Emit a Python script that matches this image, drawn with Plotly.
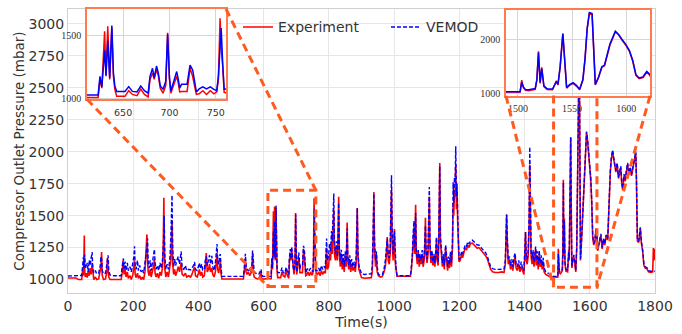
import plotly.graph_objects as go

# ---------------- data ----------------
time_s = [
    0, 25, 32, 42, 45, 47, 49, 50, 51, 53, 56, 59, 62, 65, 68, 71, 74, 76, 79, 84, 88, 94, 99, 101, 103, 105, 109, 115, 119, 121, 123, 125, 129,
    140, 163, 166, 169, 170, 172, 175, 178, 182, 185, 190, 194, 199, 202, 204, 206, 209, 213, 216, 220, 224, 228, 232, 236, 239,
    242, 244, 246, 249, 252, 255, 259, 262, 265, 267, 270, 274, 278, 282, 286, 290, 292, 294, 295, 297, 300, 304, 308, 312, 315,
    317, 319, 321, 324, 327, 330, 334, 338, 342, 347, 350, 355, 360, 364, 370, 376, 380, 385, 388, 391, 396, 400, 403, 406, 410,
    413, 418, 421, 424, 427, 431, 434, 437, 441, 444, 448, 452, 455, 457, 459, 462, 465, 467, 469, 472,
    538, 541, 543, 544, 546, 549, 553, 557, 561, 564, 566, 568, 571, 576, 581, 586, 590, 592, 594, 597,
    611, 623, 625, 627, 630, 631.5, 633.4, 635.5, 637.8, 639.5, 641, 643, 648, 652, 656, 660, 665, 669, 673, 677,
    679, 681.7, 683.5, 686, 688, 690, 693, 696, 698, 700, 701.5, 704, 707.8, 709.5, 711, 713, 719, 722.2, 725, 727,
    729, 732, 736, 740, 744, 748, 751, 752.8, 754.6, 755.8, 757.5, 759, 761,
    765, 769, 773, 777, 781, 785, 789, 792, 793, 795, 799, 802, 805, 808, 810, 813, 815, 817, 820, 823,
    826, 828, 830, 832, 835, 838, 841, 844, 847, 850, 853, 856, 858, 861, 864, 867, 870, 874, 878, 881,
    884, 887, 889, 892, 896, 900, 910, 920, 930, 933, 936, 938, 940, 943, 946, 948, 952, 958, 964, 969,
    973, 976, 979, 982, 985, 988, 990, 992, 994, 997, 1001, 1003, 1006, 1009,
    1050, 1053, 1056, 1058, 1061, 1063, 1066, 1068, 1071, 1074, 1077, 1080, 1083, 1086, 1089, 1092, 1094, 1096, 1098, 1101,
    1104, 1106, 1108, 1110, 1113, 1116, 1119, 1122, 1125, 1128, 1130, 1132, 1135, 1137, 1140, 1142, 1145, 1148, 1151, 1154,
    1158, 1161, 1164, 1167, 1170, 1173, 1176, 1179, 1181, 1183, 1185, 1187, 1189, 1191, 1193, 1195, 1197, 1199,
    1203, 1207, 1210, 1214, 1218, 1222, 1226, 1230, 1234, 1240, 1245, 1250, 1255, 1260, 1265, 1270, 1275, 1281, 1286, 1291,
    1296, 1302, 1310, 1320, 1330, 1337, 1341, 1343, 1345, 1347, 1350, 1354, 1357, 1361, 1364, 1368, 1371, 1374, 1378, 1382,
    1386, 1390, 1394, 1398,
    1401, 1403, 1405, 1408, 1411, 1414, 1416, 1418, 1420, 1423, 1426, 1429, 1431, 1434, 1436, 1439, 1442, 1445, 1448, 1451,
    1454, 1457, 1460, 1465, 1472, 1480, 1489,
    1502, 1503.5, 1505, 1507, 1510, 1513, 1516, 1517.5, 1519, 1520.5, 1522, 1524, 1527, 1532, 1535.5, 1537, 1539, 1541.5, 1543, 1545,
    1548, 1551, 1554, 1557, 1560, 1562, 1564, 1566, 1568.5, 1570, 1571.5, 1574.5, 1577.5, 1580, 1585, 1590, 1593, 1596, 1599.5, 1603,
    1606, 1609, 1612, 1615.5, 1619, 1622,
    1624, 1630, 1634, 1638, 1642, 1646, 1650, 1655, 1658, 1660, 1663, 1666, 1670, 1673, 1676, 1680, 1684, 1688, 1692, 1695,
    1698, 1701, 1705, 1709, 1712, 1716, 1720, 1724, 1728, 1731, 1735, 1738, 1741, 1743, 1746, 1750, 1753, 1755, 1758, 1762,
    1766, 1770, 1775, 1780, 1787, 1793, 1795, 1797, 1800,
]

experiment_mbar = [
    1012, 1012, 1000, 1000, 1070, 1030, 1200, 1345, 1080, 1020, 1050, 1015, 1070, 1030, 1090, 1040, 1130, 1040, 1000, 1020, 1000, 1005, 1060, 1100, 1215, 1030, 1000, 1005, 1060, 1170, 1080, 1020, 1000,
    1000, 1000, 1050, 1150, 1100, 1040, 1080, 1020, 1060, 1010, 1030, 1000, 1040, 1090, 1150, 1040, 1015, 1050, 1010, 1030, 1000, 1020, 1000, 1060, 1180,
    1353, 1150, 1060, 1030, 1080, 1020, 1060, 1100, 1160, 1050, 1020, 1050, 1010, 1060, 1030, 1100, 1250, 1639, 1300, 1080, 1020, 1060, 1020, 1080, 1150,
    1300, 1463, 1120, 1040, 1080, 1030, 1060, 1100, 1060, 1132, 1040, 1030, 1050, 1020, 1030, 1020, 1040, 1070, 1100, 1030, 1020, 1050, 1080, 1030, 1060,
    1020, 1030, 1100, 1208, 1060, 1080, 1120, 1060, 1090, 1040, 1020, 1060, 1150, 1208, 1080, 1050, 1100, 1150, 1050, 1005,
    1005, 1060, 1120, 1157, 1060, 1040, 1060, 1030, 1050, 1080, 1202, 1060, 1020, 1010, 1005, 1010, 1040, 1060, 1010, 1004,
    1006, 1006, 1150, 1080, 1533, 1174, 1572, 1150, 1560, 1174, 1072, 1015, 1015, 1015, 1060, 1030, 1020, 1072, 1030, 1010,
    1150, 1200, 1150, 1230, 1180, 1080, 1040, 1100, 1520, 1150, 1040, 1100, 1174, 1120, 1050, 1054, 1054, 1238, 1174, 1100,
    1030, 1035, 1060, 1030, 1060, 1035, 1050, 1150, 1636, 1400, 1250, 1046, 1046,
    1040, 1060, 1030, 1070, 1040, 1060, 1050, 1200, 1250, 1080, 1100, 1200, 1150, 1300, 1200, 1400, 1550, 1200, 1150, 1250,
    1150, 1350, 1648, 1200, 1100, 1200, 1080, 1150, 1060, 1180, 1100, 1446, 1150, 1080, 1150, 1060, 1120, 1070, 1100, 1060,
    1150, 1560, 1200, 1080, 1040, 1015, 1010, 1010, 1015, 1060, 1300, 1685, 1250, 1100, 1180, 1060, 1030, 1019, 1025, 1060,
    1100, 1180, 1333, 1150, 1120, 1200, 1400, 1700, 1300, 1150, 1396, 1150, 1082, 1026,
    1026, 1080, 1180, 1300, 1400, 1200, 1585, 1200, 1120, 1220, 1100, 1180, 1120, 1200, 1100, 1150, 1250, 1484, 1200, 1130,
    1200, 1400, 1650, 1250, 1130, 1200, 1110, 1180, 1100, 1200, 1320, 1150, 1110, 1300, 1912, 1300, 1150, 1100, 1170, 1080,
    1250, 1120, 1070, 1150, 1090, 1200, 1100, 1250, 1600, 1500, 1700, 1650, 1900, 1550, 1700, 1450, 1300, 1140,
    1150, 1200, 1170, 1210, 1250, 1230, 1270, 1250, 1280, 1285, 1270, 1260, 1245, 1250, 1235, 1220, 1200, 1185, 1160, 1125,
    1080, 1060, 1055, 1055, 1060, 1055, 1120, 1300, 1509, 1300, 1120, 1150, 1080, 1120, 1070, 1140, 1180, 1090, 1070, 1120,
    1060, 1100, 1060, 1040,
    1200, 1371, 1150, 1120, 1180, 1400, 1900, 1400, 1180, 1120, 1200, 1100, 1180, 1240, 1110, 1180, 1080, 1200, 1100, 1150,
    1080, 1140, 1060, 1040, 1030, 1020, 1020,
    1018, 1240, 1100, 1050, 1045, 1055, 1070, 1260, 1780, 1180, 1480, 1120, 1065, 1060, 1230, 1150, 1480, 2110, 1600, 1090,
    1150, 1180, 1130, 1060, 1240, 1640, 2200, 2490, 2470, 1780, 1150, 1290, 1480, 1510, 1900, 2150, 2090, 1995, 1900, 1780,
    1600, 1330, 1270, 1290, 1390, 1330,
    1225, 1290, 1345, 1240, 1310, 1270, 1340, 1310, 1490, 1720, 1840, 1940, 2000, 1950, 1890, 1840, 1900, 1790, 1840, 1875,
    1750, 1700, 1810, 1770, 1840, 1900, 1820, 1870, 1810, 1850, 1910, 1950, 1990, 1790, 1300, 1290, 1340, 1400, 1290, 1225,
    1110, 1090, 1085, 1060, 1055, 1060, 1246, 1150, 1240,
]

vemod_mbar = [
    1028, 1028, 1028, 1032, 1110, 1175, 1090, 1120, 1195, 1100, 1090, 1130, 1060, 1150, 1110, 1170, 1215, 1090, 1050, 1070, 1045, 1050, 1110, 1180, 1160, 1070, 1045, 1050, 1110, 1150, 1190, 1070, 1035,
    1030, 1030, 1100, 1140, 1165, 1080, 1140, 1070, 1130, 1070, 1100, 1060, 1120, 1180, 1260, 1110, 1080, 1150, 1070, 1110, 1060, 1080, 1050, 1120, 1200,
    1250, 1320, 1130, 1090, 1150, 1070, 1140, 1180, 1236, 1130, 1080, 1110, 1070, 1130, 1090, 1160, 1220, 1350, 1500, 1180, 1080, 1120, 1080, 1150, 1300,
    1500, 1660, 1250, 1100, 1160, 1110, 1150, 1180, 1120, 1220, 1090, 1080, 1110, 1070, 1080, 1075, 1090, 1110, 1137, 1080, 1070, 1100, 1130, 1085, 1120,
    1075, 1080, 1150, 1180, 1110, 1150, 1190, 1120, 1185, 1100, 1070, 1130, 1220, 1278, 1150, 1120, 1180, 1200, 1100, 1025,
    1025, 1100, 1160, 1202, 1110, 1080, 1070, 1075, 1060, 1100, 1227, 1110, 1060, 1050, 1040, 1045, 1070, 1081, 1040, 1025,
    1025, 1025, 1174, 1090, 1379, 1180, 1456, 1162, 1579, 1200, 1100, 1054, 1054, 1054, 1092, 1054, 1050, 1097, 1060, 1040,
    1174, 1238, 1162, 1256, 1200, 1100, 1070, 1135, 1508, 1162, 1058, 1121, 1212, 1150, 1080, 1110, 1110, 1264, 1225, 1140,
    1050, 1074, 1090, 1074, 1090, 1070, 1060, 1174, 1460, 1558, 1264, 1072, 1074,
    1070, 1090, 1060, 1110, 1080, 1100, 1090, 1260, 1321, 1150, 1180, 1280, 1220, 1380, 1300, 1500, 1673, 1300, 1200, 1300,
    1180, 1300, 1600, 1250, 1150, 1233, 1120, 1200, 1100, 1220, 1140, 1400, 1180, 1110, 1190, 1100, 1160, 1100, 1140, 1090,
    1200, 1560, 1220, 1110, 1068, 1045, 1040, 1040, 1045, 1100, 1350, 1673, 1300, 1150, 1220, 1100, 1040, 1032, 1040, 1080,
    1150, 1220, 1320, 1200, 1170, 1250, 1500, 1816, 1400, 1200, 1380, 1180, 1082, 1030,
    1030, 1100, 1200, 1350, 1459, 1250, 1520, 1230, 1160, 1230, 1140, 1200, 1150, 1230, 1130, 1180, 1300, 1420, 1250, 1160,
    1250, 1500, 1723, 1300, 1160, 1230, 1140, 1200, 1130, 1240, 1333, 1180, 1140, 1350, 1887, 1350, 1180, 1130, 1200, 1110,
    1270, 1150, 1100, 1180, 1120, 1220, 1130, 1300, 1761, 1600, 1800, 1750, 2043, 1650, 1750, 1500, 1350, 1157,
    1170, 1220, 1200, 1233, 1270, 1260, 1296, 1280, 1300, 1308, 1295, 1280, 1270, 1270, 1258, 1240, 1225, 1208, 1180, 1145,
    1100, 1085, 1080, 1080, 1080, 1082, 1150, 1350, 1509, 1350, 1150, 1180, 1110, 1160, 1100, 1180, 1207, 1120, 1100, 1150,
    1090, 1140, 1080, 1070,
    1250, 1371, 1200, 1160, 1220, 1500, 2038, 1500, 1220, 1160, 1230, 1140, 1210, 1258, 1150, 1220, 1120, 1230, 1130, 1190,
    1110, 1170, 1090, 1060, 1050, 1040, 1024,
    1024, 1200, 1120, 1065, 1060, 1068, 1085, 1240, 1760, 1200, 1460, 1135, 1080, 1075, 1215, 1165, 1494, 2115, 1620, 1105,
    1163, 1193, 1145, 1072, 1253, 1645, 2217, 2506, 2490, 1796, 1163, 1300, 1494, 1524, 1916, 2157, 2098, 2007, 1916, 1796,
    1615, 1344, 1283, 1301, 1404, 1344,
    1232, 1300, 1358, 1250, 1320, 1280, 1350, 1320, 1500, 1736, 1850, 1950, 2013, 1960, 1900, 1850, 1912, 1800, 1850, 1887,
    1760, 1711, 1824, 1780, 1850, 1912, 1830, 1880, 1820, 1862, 1920, 1960, 2000, 1800, 1308, 1300, 1350, 1409, 1300, 1232,
    1120, 1100, 1094, 1070, 1065, 1065, 1070, 1065, 1065,
]

x_ticks = [0, 200, 400, 600, 800, 1000, 1200, 1400, 1600, 1800]
y_ticks = [1000, 1250, 1500, 1750, 2000, 2250, 2500, 2750, 3000]
inset1_xticks = [650, 700, 750]
inset1_yticks = [1000, 1500]
inset2_xticks = [1500, 1550, 1600]
inset2_yticks = [1000, 2000]

assert len(time_s) == len(experiment_mbar) == len(vemod_mbar), (len(time_s), len(experiment_mbar), len(vemod_mbar))

# ---------------- geometry / style ----------------
W, H = 682, 334
ML, MR, MT, MB = 68, 27, 7, 33
PW, PH = W - ML - MR, H - MT - MB

main_x = [0, 1800]
main_y = [895, 3115]

inset1_x = [611, 761]
inset1_y = [991, 1710]
box1_y = [945, 1698]
inset2_x = [1489, 1622]
inset2_y = [946, 2555]
box2_y = [940, 2438]


def pxx(px):
    return (px - ML) / PW


def pxy(py):
    return (H - MB - py) / PH


def dx(t):
    return (t - main_x[0]) / (main_x[1] - main_x[0])


def dy(p):
    return (p - main_y[0]) / (main_y[1] - main_y[0])


ins1_dom_x = [pxx(87), pxx(226)]
ins1_dom_y = [pxy(100.5), pxy(7)]
ins2_dom_x = [pxx(506), pxx(650)]
ins2_dom_y = [pxy(97), pxy(8)]

RED = "#ff0000"
BLUE = "#0000ff"
ORANGE = "#ff5a1f"
BORDER = "#ff7a4d"
FONT = "DejaVu Sans"
TXT = "#333333"

fig = go.Figure()

fig.add_trace(go.Scatter(x=time_s, y=experiment_mbar, mode="lines", name="Experiment",
                         line=dict(color=RED, width=1.6), legend="legend"))
fig.add_trace(go.Scatter(x=time_s, y=vemod_mbar, mode="lines", name="VEMOD",
                         line=dict(color=BLUE, width=1.4, dash="4px,2px"), legend="legend2"))

for xa, ya in (("x2", "y2"), ("x3", "y3")):
    fig.add_trace(go.Scatter(x=time_s, y=experiment_mbar, mode="lines", xaxis=xa, yaxis=ya,
                             line=dict(color=RED, width=1.5), showlegend=False))
    fig.add_trace(go.Scatter(x=time_s, y=vemod_mbar, mode="lines", xaxis=xa, yaxis=ya,
                             line=dict(color=BLUE, width=1.5), showlegend=False))

shapes = []
dash_line = dict(color=ORANGE, width=3, dash="8px,5px")
# zoom box 1 (closed rectangle)
shapes.append(dict(type="rect", xref="x", yref="y", x0=inset1_x[0] + 2, x1=inset1_x[1] - 1,
                   y0=box1_y[0], y1=box1_y[1], line=dash_line, layer="above"))
# zoom box 2 (open at the top, under the inset)
shapes.append(dict(type="path", xref="x", yref="y",
                   path=f"M{inset2_x[0]},{box2_y[1]} L{inset2_x[0]},{box2_y[0]} L{inset2_x[1]},{box2_y[0]} L{inset2_x[1]},{box2_y[1]}",
                   line=dash_line, layer="above"))
# connectors
conn = [
    (ins1_dom_x[0], ins1_dom_y[0], dx(inset1_x[0] + 2), dy(box1_y[0])),
    (ins1_dom_x[1], ins1_dom_y[1], dx(inset1_x[1] - 1), dy(box1_y[1])),
    (ins2_dom_x[0], ins2_dom_y[0], dx(inset2_x[0]), dy(box2_y[0])),
    (ins2_dom_x[1], ins2_dom_y[0], dx(inset2_x[1]), dy(box2_y[0])),
]
for x0, y0, x1, y1 in conn:
    shapes.append(dict(type="line", xref="paper", yref="paper", x0=x0, y0=y0, x1=x1, y1=y1,
                       line=dash_line, layer="above"))

main_axis = dict(showgrid=True, gridcolor="#e6e6e6", gridwidth=1, zeroline=False,
                 showline=True, linecolor="#d0d0d0", linewidth=1, mirror=True, ticks="",
                 tickfont=dict(family=FONT, size=14, color=TXT))
inset_axis = dict(showgrid=True, gridcolor="#d6d6d6", gridwidth=1, zeroline=False,
                  showline=True, linecolor=BORDER, linewidth=1.5, mirror=True,
                  ticks="outside", ticklen=2, tickcolor="rgba(0,0,0,0)")
serif9 = dict(family="Liberation Serif", size=10, color=TXT)
sans9 = dict(family=FONT, size=9.5, color=TXT)

fig.update_layout(
    width=W, height=H,
    margin=dict(l=ML, r=MR, t=MT, b=MB),
    paper_bgcolor="white", plot_bgcolor="white",
    font=dict(family=FONT, size=14, color=TXT),
    xaxis=dict(main_axis, range=main_x, tickvals=x_ticks,
               title=dict(text="Time(s)", font=dict(family=FONT, size=14, color=TXT), standoff=3)),
    yaxis=dict(main_axis, range=main_y, tickvals=y_ticks,
               title=dict(text="Compressor Outlet Pressure (mbar)", font=dict(family=FONT, size=13.5, color=TXT), standoff=0)),
    xaxis2=dict(inset_axis, domain=ins1_dom_x, anchor="y2", range=inset1_x, tickvals=inset1_xticks,
                tickfont=sans9, ticklen=4),
    yaxis2=dict(inset_axis, domain=ins1_dom_y, anchor="x2", range=inset1_y, tickvals=inset1_yticks,
                tickfont=serif9),
    xaxis3=dict(inset_axis, domain=ins2_dom_x, anchor="y3", range=inset2_x, tickvals=inset2_xticks,
                tickfont=serif9),
    yaxis3=dict(inset_axis, domain=ins2_dom_y, anchor="x3", range=inset2_y, tickvals=inset2_yticks,
                tickfont=serif9),
    shapes=shapes,
    legend=dict(x=pxx(238), y=pxy(26), xanchor="left", yanchor="middle", bgcolor="rgba(0,0,0,0)",
                font=dict(family=FONT, size=14, color=TXT)),
    legend2=dict(x=pxx(386), y=pxy(26), xanchor="left", yanchor="middle", bgcolor="rgba(0,0,0,0)",
                 font=dict(family=FONT, size=14, color=TXT)),
    showlegend=True,
)

fig.write_html("out.html")
